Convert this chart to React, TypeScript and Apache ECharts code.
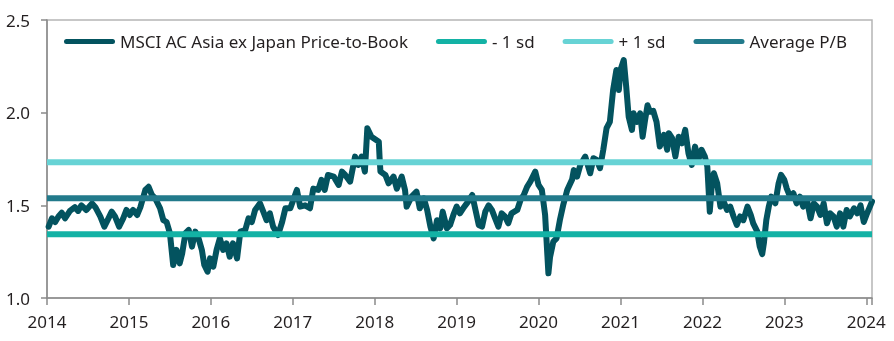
import React, { useEffect, useRef } from "react";
import * as echarts from "echarts";

// Decimal year of each observation
const years: number[] = [
  2014.02, 2014.06, 2014.10, 2014.14, 2014.18, 2014.22, 2014.28, 2014.34, 2014.38, 2014.42,
  2014.48, 2014.55, 2014.59, 2014.65, 2014.70, 2014.75, 2014.79, 2014.83, 2014.88, 2014.93,
  2014.97, 2015.01, 2015.05, 2015.10, 2015.14, 2015.20, 2015.24, 2015.28, 2015.32, 2015.38,
  2015.42, 2015.46, 2015.50, 2015.54, 2015.58, 2015.62, 2015.65, 2015.69, 2015.73, 2015.77,
  2015.81, 2015.85, 2015.89, 2015.92, 2015.96, 2015.99, 2016.03, 2016.07, 2016.11, 2016.15,
  2016.19, 2016.23, 2016.27, 2016.32, 2016.36, 2016.42, 2016.46, 2016.50, 2016.54, 2016.60,
  2016.64, 2016.68, 2016.72, 2016.76, 2016.82, 2016.87, 2016.91, 2016.97, 2017.05, 2017.09,
  2017.15, 2017.21, 2017.25, 2017.31, 2017.35, 2017.39, 2017.43, 2017.50, 2017.56, 2017.60,
  2017.64, 2017.70, 2017.76, 2017.80, 2017.84, 2017.88, 2017.91, 2017.96, 2018.05, 2018.06,
  2018.07, 2018.13, 2018.17, 2018.23, 2018.27, 2018.33, 2018.37, 2018.39, 2018.45, 2018.51,
  2018.55, 2018.60, 2018.64, 2018.68, 2018.72, 2018.76, 2018.80, 2018.83, 2018.88, 2018.92,
  2018.96, 2019.00, 2019.04, 2019.08, 2019.14, 2019.19, 2019.23, 2019.27, 2019.31, 2019.35,
  2019.39, 2019.43, 2019.47, 2019.51, 2019.55, 2019.59, 2019.63, 2019.67, 2019.74, 2019.78,
  2019.82, 2019.86, 2019.90, 2019.96, 2020.00, 2020.04, 2020.08, 2020.12, 2020.14, 2020.18,
  2020.22, 2020.26, 2020.30, 2020.35, 2020.41, 2020.43, 2020.47, 2020.51, 2020.57, 2020.63,
  2020.67, 2020.71, 2020.75, 2020.79, 2020.83, 2020.87, 2020.91, 2020.95, 2020.98, 2021.00,
  2021.04, 2021.07, 2021.10, 2021.14, 2021.16, 2021.20, 2021.24, 2021.27, 2021.30, 2021.33,
  2021.36, 2021.40, 2021.44, 2021.48, 2021.53, 2021.57, 2021.59, 2021.63, 2021.67, 2021.71,
  2021.75, 2021.79, 2021.83, 2021.87, 2021.91, 2021.95, 2021.99, 2022.03, 2022.06, 2022.09,
  2022.12, 2022.14, 2022.18, 2022.22, 2022.26, 2022.30, 2022.34, 2022.38, 2022.42, 2022.46,
  2022.50, 2022.55, 2022.59, 2022.62, 2022.67, 2022.70, 2022.73, 2022.75, 2022.78, 2022.81,
  2022.84, 2022.89, 2022.93, 2022.96, 2023.00, 2023.03, 2023.07, 2023.11, 2023.15, 2023.19,
  2023.23, 2023.28, 2023.32, 2023.36, 2023.40, 2023.44, 2023.48, 2023.52, 2023.56, 2023.60,
  2023.64, 2023.68, 2023.72, 2023.76, 2023.80, 2023.85, 2023.89, 2023.93, 2023.97, 2024.01,
  2024.07,
];

// MSCI AC Asia ex Japan price-to-book
const priceToBook: number[] = [
  1.385, 1.43, 1.41, 1.44, 1.46, 1.43, 1.47, 1.49, 1.47, 1.50,
  1.475, 1.51, 1.49, 1.44, 1.385, 1.43, 1.466, 1.44, 1.385, 1.43,
  1.475, 1.448, 1.475, 1.448, 1.49, 1.583, 1.60, 1.556, 1.538, 1.484,
  1.42, 1.41, 1.35, 1.178, 1.26, 1.187, 1.24, 1.35, 1.367, 1.277,
  1.358, 1.322, 1.26, 1.178, 1.142, 1.214, 1.169, 1.26, 1.322, 1.26,
  1.295, 1.223, 1.295, 1.214, 1.358, 1.367, 1.43, 1.41, 1.475, 1.511,
  1.466, 1.42, 1.457, 1.385, 1.34, 1.41, 1.484, 1.484, 1.583, 1.493,
  1.50, 1.484, 1.59, 1.583, 1.637, 1.583, 1.664, 1.655, 1.61, 1.682,
  1.664, 1.628, 1.763, 1.718, 1.763, 1.682, 1.916, 1.87, 1.843, 1.754,
  1.682, 1.664, 1.619, 1.655, 1.59, 1.655, 1.583, 1.493, 1.547, 1.574,
  1.484, 1.538, 1.475, 1.385, 1.322, 1.42, 1.376, 1.466, 1.376, 1.394,
  1.448, 1.493, 1.457, 1.484, 1.52, 1.556, 1.475, 1.394, 1.385, 1.466,
  1.50, 1.475, 1.43, 1.385, 1.457, 1.44, 1.403, 1.457, 1.475, 1.529,
  1.556, 1.60, 1.628, 1.682, 1.61, 1.583, 1.448, 1.133, 1.22, 1.304,
  1.322, 1.42, 1.50, 1.583, 1.64, 1.69, 1.655, 1.718, 1.763, 1.673,
  1.754, 1.745, 1.70, 1.80, 1.916, 1.95, 2.122, 2.23, 2.122, 2.23,
  2.284, 2.14, 1.978, 1.907, 1.997, 1.95, 1.997, 1.87, 1.96, 2.04,
  2.005, 2.01, 1.95, 1.817, 1.88, 1.80, 1.889, 1.862, 1.763, 1.87,
  1.835, 1.907, 1.78, 1.718, 1.817, 1.745, 1.80, 1.763, 1.709, 1.466,
  1.637, 1.673, 1.619, 1.493, 1.52, 1.475, 1.493, 1.44, 1.394, 1.44,
  1.42, 1.493, 1.448, 1.403, 1.358, 1.277, 1.237, 1.295, 1.42, 1.493,
  1.547, 1.511, 1.619, 1.664, 1.637, 1.59, 1.547, 1.565, 1.511, 1.547,
  1.493, 1.52, 1.43, 1.511, 1.493, 1.448, 1.511, 1.403, 1.457, 1.44,
  1.385, 1.457, 1.385, 1.475, 1.44, 1.484, 1.457, 1.50, 1.41, 1.457,
  1.52,
];

const minusOneSd = 1.344;
const plusOneSd = 1.732;
const averagePB = 1.538;

const xStart = 2014;
const xEnd = 2024.07;

const seriesNames = [
  "MSCI AC Asia ex Japan Price-to-Book",
  "- 1 sd",
  "+ 1 sd",
  "Average P/B",
];

const colors = ["#03535f", "#13b2a5", "#67d3d5", "#227a8b"];

const pill = "path://M2.5,0 L48.5,0 A2.5,2.5 0 0 1 48.5,5 L2.5,5 A2.5,2.5 0 0 1 2.5,0 Z";

export default function App() {
  const ref = useRef<HTMLDivElement>(null);
  useEffect(() => {
    if (!ref.current) return;
    const chart = echarts.init(ref.current, null, { renderer: "svg" });
    const mainData = years.map((y, i) => [y, priceToBook[i]]);
    const flat = (v: number) => [
      [xStart, v],
      [xEnd, v],
    ];
    const font = "'Noto Sans', sans-serif";
    chart.setOption({
      animation: false,
      grid: {
        left: 47,
        right: 22,
        top: 20,
        bottom: 43,
        show: true,
        borderColor: "#b5b5b5",
        borderWidth: 1.5,
        containLabel: false,
      },
      legend: {
        left: 64,
        top: 33,
        padding: 0,
        itemWidth: 51,
        itemHeight: 5,
        itemGap: 28,
        icon: pill,
        textStyle: { fontFamily: font, fontSize: 17, color: "#231f20" },
        data: seriesNames,
      },
      xAxis: {
        type: "value",
        min: xStart,
        max: xEnd,
        interval: 1,
        axisLine: { show: true, lineStyle: { color: "#8a8a8a", width: 1.5 } },
        axisTick: { show: true, length: 7, lineStyle: { color: "#8a8a8a", width: 1.5 } },
        splitLine: { show: false },
        axisLabel: {
          fontFamily: font,
          fontSize: 17,
          color: "#231f20",
          margin: 15,
          formatter: (v: number) => (Math.abs(v - Math.round(v)) < 1e-6 ? String(Math.round(v)) : ""),
        },
      },
      yAxis: {
        type: "value",
        min: 1,
        max: 2.5,
        interval: 0.5,
        axisLine: { show: true, lineStyle: { color: "#8a8a8a", width: 1.5 } },
        axisTick: { show: true, length: 6, lineStyle: { color: "#8a8a8a", width: 1.5 } },
        splitLine: { show: false },
        axisLabel: {
          fontFamily: font,
          fontSize: 17,
          color: "#231f20",
          margin: 17,
          formatter: (v: number) => v.toFixed(1),
        },
      },
      series: [
        {
          name: seriesNames[0],
          type: "line",
          data: mainData,
          showSymbol: false,
          symbol: "none",
          lineStyle: { color: colors[0], width: 6, cap: "round", join: "round" },
          itemStyle: { color: colors[0] },
        },
        {
          name: seriesNames[1],
          type: "line",
          data: flat(minusOneSd),
          symbol: "none",
          lineStyle: { color: colors[1], width: 6 },
          itemStyle: { color: colors[1] },
        },
        {
          name: seriesNames[2],
          type: "line",
          data: flat(plusOneSd),
          symbol: "none",
          lineStyle: { color: colors[2], width: 6 },
          itemStyle: { color: colors[2] },
        },
        {
          name: seriesNames[3],
          type: "line",
          data: flat(averagePB),
          symbol: "none",
          lineStyle: { color: colors[3], width: 6 },
          itemStyle: { color: colors[3] },
        },
      ],
    });
    return () => chart.dispose();
  }, []);
  return (
    <div
      ref={ref}
      style={{ position: "fixed", left: 0, top: 0, width: 894, height: 341 }}
    />
  );
}
